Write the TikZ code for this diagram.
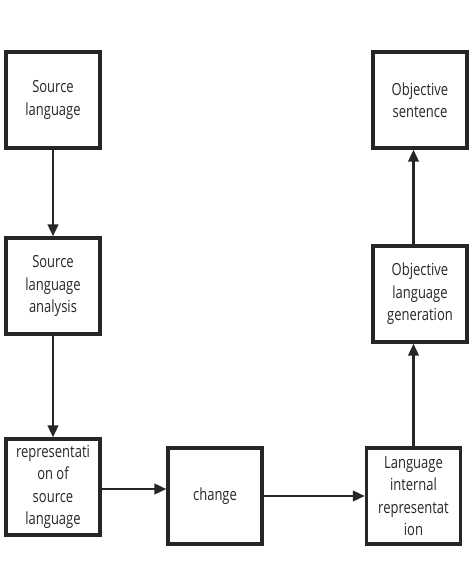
\documentclass[tikz,border=0pt]{standalone}
\usepackage{fontspec}
\setmainfont{Open Sans}[FakeStretch=0.78]
\usetikzlibrary{arrows.meta}
\begin{document}
\begin{tikzpicture}[x=0.75pt,y=-0.75pt,
  box/.style={draw=black!85,line width=2.6pt,minimum width=70.5pt,minimum height=72pt,inner sep=1pt,align=center,font=\fontsize{12.5}{16.8}\selectfont,text=black!85},
  conn/.style={draw=black!85,line width=1.7pt,-{Triangle[length=9pt,width=8pt]}}]
\useasboundingbox (0,0) rectangle (474,588);
\node[box] (src) at (53,100) {Source\\language};
\node[box] (ana) at (53,286) {Source\\language\\analysis};
\node[box] (rep) at (53,487) {representati\\on of\\source\\language};
\node[box] (chg) at (215,496) {change};
\node[box] (int) at (413.5,496) {Language\\internal\\representat\\ion};
\node[box] (gen) at (420,294) {Objective\\language\\generation};
\node[box] (sen) at (420,100) {Objective\\sentence};
\draw[conn] (src) -- (ana);
\draw[conn] (ana) -- (rep);
\draw[conn] (rep.east |- 0,489) -- (chg.west |- 0,489);
\draw[conn] (chg) -- (int);
\draw[conn] (int.north) -- (int.north |- gen.south);
\draw[conn] (gen.north -| int.north) -- (int.north |- sen.south);
\end{tikzpicture}
\end{document}
